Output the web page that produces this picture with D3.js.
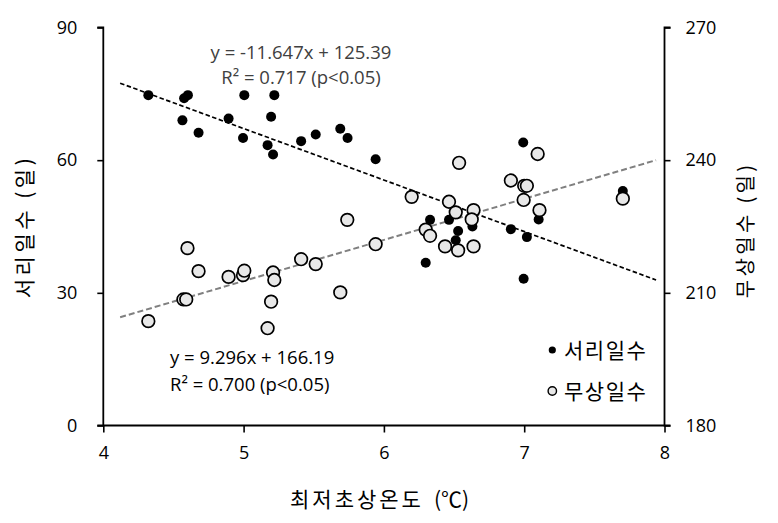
<!DOCTYPE html>
<html><head><meta charset="utf-8">
<script src="https://cdn.jsdelivr.net/npm/d3@7"></script>
<style>
body{margin:0;background:#fff;}
text{font-family:"Open Sans","Noto Sans",sans-serif;}
.kr{font-family:"Noto Sans CJK KR","Noto Sans",sans-serif;}
</style></head>
<body><svg id="c" width="778" height="523"></svg>
<script>
// 서리일수 (frost days) – left axis
const frostX = [4.321,4.576,4.603,5.005,5.219,4.564,4.679,4.893,4.996,5.196,5.171,5.21,5.41,5.514,5.689,5.741,5.941,
  6.993,7.703,6.329,6.464,6.529,6.512,6.631,6.905,7.019,7.103,6.298,6.996,6.453];
const frostY = [74.7,74.0,74.7,74.7,74.7,69.0,66.2,69.4,65.0,69.8,63.4,61.3,64.3,65.8,67.1,65.0,60.2,
  64.0,53.0,46.5,46.5,44.0,41.9,45.0,44.4,42.6,46.6,36.8,33.2,50.4];
// 무상일수 (frost-free days) – right axis
const freeX = [4.321,4.6,4.679,4.571,4.591,4.893,4.996,5.005,5.21,5.219,5.196,5.171,5.41,5.514,5.689,5.739,5.941,
  6.536,7.096,6.198,6.905,7.0,7.019,6.996,7.109,7.703,6.464,6.512,6.639,6.626,6.298,6.329,6.436,6.529,6.639];
const freeY = [203.6,220.1,214.9,208.5,208.5,213.6,214.0,215.0,214.6,212.9,208.0,202.0,217.6,216.5,210.1,226.5,221.0,
  239.4,241.4,231.7,235.4,234.2,234.2,231.0,228.7,231.3,230.6,228.2,228.7,226.6,224.3,222.9,220.5,219.6,220.5];
const xTicks = [4,5,6,7,8];
const leftTicks = [0,30,60,90];
const rightTicks = [180,210,240,270];
const frostFit = {slope:-11.647, intercept:125.39, from:4.12, to:7.94};
const freeFit = {slope:9.296, intercept:166.19, from:4.12, to:7.94};
const eqTexts = {
  frost:["y = -11.647x + 125.39","R² = 0.717 (p<0.05)"],
  free:["y = 9.296x + 166.19","R² = 0.700 (p<0.05)"]
};
const legendLabels = ["서리일수","무상일수"];

const svg = d3.select("#c");
const L=103.3, R=664.5, T=27.5, B=425.5;
const x = d3.scaleLinear().domain([4,8]).range([L,R]);
const yL = d3.scaleLinear().domain([0,90]).range([B,T]);
const yR = d3.scaleLinear().domain([180,270]).range([B,T]);

// axes
const gx = svg.append("g").attr("transform",`translate(0,${B})`)
  .call(d3.axisBottom(x).tickValues(xTicks).tickSize(7).tickPadding(14).tickFormat(d3.format("d")));
const gl = svg.append("g").attr("transform",`translate(${L},0)`)
  .call(d3.axisLeft(yL).tickValues(leftTicks).tickSize(6).tickPadding(20));
const gr = svg.append("g").attr("transform",`translate(${R},0)`)
  .call(d3.axisRight(yR).tickValues(rightTicks).tickSize(6).tickPadding(15));
[gx,gl,gr].forEach(g=>{
  g.select(".domain").attr("stroke","#000").attr("stroke-width",1.8);
  g.selectAll(".tick line").attr("stroke","#000").attr("stroke-width",1.6);
  g.selectAll(".tick text").attr("font-size",18).attr("fill","#000")
    .attr("font-family","'Open Sans','Noto Sans',sans-serif");
});
gl.select(".domain").attr("d",`M${-6},${B}H0V${T}H-6`);
gr.select(".domain").attr("d",`M6,${B}H0V${T}H6`);
gx.select(".domain").attr("d",`M${L},0H${R}`);

// regression lines
function fitLine(f, yScale, color, dash, w){
  svg.append("line")
    .attr("x1",x(f.from)).attr("y1",yScale(f.slope*f.from+f.intercept))
    .attr("x2",x(f.to)).attr("y2",yScale(f.slope*f.to+f.intercept))
    .attr("stroke",color).attr("stroke-width",w).attr("stroke-dasharray",dash);
}
fitLine(frostFit,yL,"#000","4.5,2.5",1.7);
fitLine(freeFit,yR,"#808080","6,3",2);

// points
svg.append("g").selectAll("circle").data(d3.range(frostX.length)).join("circle")
  .attr("cx",i=>x(frostX[i])).attr("cy",i=>yL(frostY[i])).attr("r",5).attr("fill","#000");
svg.append("g").selectAll("circle").data(d3.range(freeX.length)).join("circle")
  .attr("cx",i=>x(freeX[i])).attr("cy",i=>yR(freeY[i])).attr("r",6.3)
  .attr("fill","#e8e8e8").attr("stroke","#000").attr("stroke-width",1.7);

// equations
const eqSize = 18.5;
svg.append("text").attr("x",301).attr("y",59).attr("text-anchor","middle").attr("font-size",eqSize).attr("fill","#404040").text(eqTexts.frost[0]);
svg.append("text").attr("x",301).attr("y",84).attr("text-anchor","middle").attr("font-size",eqSize).attr("fill","#404040").text(eqTexts.frost[1]);
svg.append("text").attr("x",170).attr("y",364).attr("font-size",eqSize).attr("fill","#000").text(eqTexts.free[0]);
svg.append("text").attr("x",170).attr("y",391).attr("font-size",eqSize).attr("fill","#000").text(eqTexts.free[1]);

// legend
svg.append("circle").attr("cx",552.3).attr("cy",350).attr("r",3.6).attr("fill","#000");
svg.append("circle").attr("cx",552.3).attr("cy",391).attr("r",4.2).attr("fill","#e8e8e8").attr("stroke","#000").attr("stroke-width",1.4);
svg.append("text").attr("class","kr").attr("x",564).attr("y",358).attr("font-size",21).attr("letter-spacing",1.5).text(legendLabels[0]);
svg.append("text").attr("class","kr").attr("x",564).attr("y",399).attr("font-size",21).attr("letter-spacing",1.5).text(legendLabels[1]);

// axis titles
const xt = svg.append("text").attr("class","kr").attr("x",290).attr("y",507).attr("font-size",21);
xt.append("tspan").attr("letter-spacing",3).text("최저초상온도");
xt.append("tspan").attr("dx",10).attr("font-size",21).text("(℃)");
svg.append("text").attr("class","kr").attr("transform","translate(32,226.5) rotate(-90)").attr("text-anchor","middle").attr("font-size",21).attr("letter-spacing",3.5).text("서리일수 (일)");
svg.append("text").attr("class","kr").attr("transform","translate(753,230) rotate(-90)").attr("text-anchor","middle").attr("font-size",20).attr("letter-spacing",3.3).text("무상일수 (일)");
</script></body></html>
